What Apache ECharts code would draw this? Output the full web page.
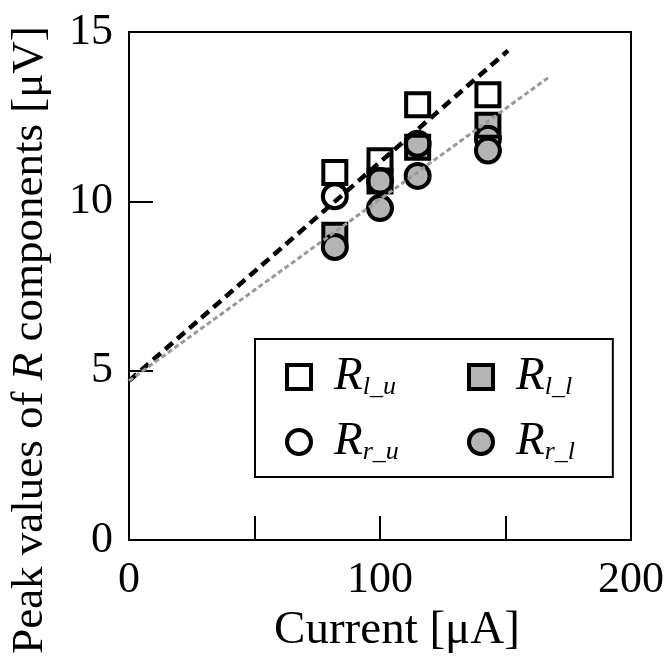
<!DOCTYPE html>
<html>
<head>
<meta charset="utf-8">
<script src="https://cdn.jsdelivr.net/npm/echarts@6/dist/echarts.min.js"></script>
<style>
  html, body { margin: 0; padding: 0; background: #fff; }
  #main { width: 667px; height: 660px; }
</style>
</head>
<body>
<div id="main"></div>
<script>
// current [uA] for each measurement column
const current = [82, 100, 115, 143];

// peak values [uV]
const rLU = [10.85, 11.2, 12.85, 13.15];
const rLL = [9.0, 10.6, 11.6, 12.25];
const rRU = [10.15, 10.6, 11.7, 11.85];
const rRL = [8.65, 9.8, 10.75, 11.5];

// fitted lines (end points)
const fitUpper = [[0, 4.7], [151, 14.45]];
const fitLower = [[0, 4.7], [167, 13.65]];

const xTicks = [50, 100, 150];
const xLabels = [0, 100, 200];
const yTicks = [5, 10];
const yLabels = [0, 5, 10, 15];

const font = "Liberation Serif";
const gray = "#b4b4b4";

function pairs(ys) {
  return current.map(function (x, i) {
    return [x, ys[i]];
  });
}

let chartDom = document.getElementById("main");
let myChart = echarts.init(chartDom);

const legendText = {
  color: "#000",
  fontFamily: font,
  width: 90,
  rich: {
    a: {
      fontFamily: font,
      fontStyle: "italic",
      fontSize: 47,
      lineHeight: 46,
      verticalAlign: "bottom",
      padding: [0, 0, 0, 18],
      color: "#000",
    },
    b: {
      fontFamily: font,
      fontStyle: "italic",
      fontSize: 26,
      lineHeight: 24,
      verticalAlign: "bottom",
      padding: [22, 0, 0, 0],
      color: "#000",
    },
  },
};

function legendFormatter(name) {
  return "{a|" + name[0] + "}{b|" + name.slice(1) + "}";
}

let option = {
  animation: false,
  grid: {
    left: 126,
    right: 35,
    top: 32,
    bottom: 120,
    show: true,
    borderColor: "#000",
    borderWidth: 2,
  },
  legend: [
    {
      data: ["Rl_u", "Rr_u"],
      orient: "vertical",
      left: 255,
      top: 339,
      padding: [13, 214, 12, 30],
      itemGap: 17,
      itemWidth: 24,
      itemHeight: 24,
      borderColor: "#000",
      borderWidth: 2,
      selectedMode: false,
      itemStyle: { borderWidth: 4 },
      textStyle: legendText,
      formatter: legendFormatter,
    },
    {
      data: ["Rl_l", "Rr_l"],
      orient: "vertical",
      left: 467,
      top: 339,
      padding: [13, 0, 12, 0],
      itemGap: 17,
      itemWidth: 24,
      itemHeight: 24,
      selectedMode: false,
      itemStyle: { borderWidth: 4 },
      textStyle: legendText,
      formatter: legendFormatter,
    },
  ],
  xAxis: {
    type: "value",
    min: 0,
    max: 200,
    interval: 50,
    name: "Current [μA]",
    nameLocation: "middle",
    nameGap: 62,
    nameTextStyle: {
      fontFamily: font,
      fontSize: 47,
      color: "#000",
      padding: [0, 0, 0, 34],
    },
    axisLine: { lineStyle: { color: "#000", width: 2 } },
    axisTick: {
      inside: true,
      length: 24,
      customValues: xTicks,
      lineStyle: { color: "#000", width: 2 },
    },
    axisLabel: {
      customValues: xLabels,
      margin: 18,
      fontFamily: font,
      fontSize: 44,
      color: "#000",
    },
    splitLine: { show: false },
  },
  yAxis: {
    type: "value",
    min: 0,
    max: 15,
    interval: 5,
    name: "Peak values of {i|R} components [μV]",
    nameLocation: "middle",
    nameGap: 76,
    nameTextStyle: {
      fontFamily: font,
      fontSize: 45,
      color: "#000",
      padding: [0, 108, 0, 0],
      rich: {
        i: { fontFamily: font, fontSize: 45, fontStyle: "italic", color: "#000" },
      },
    },
    axisLine: { lineStyle: { color: "#000", width: 2 } },
    axisTick: {
      inside: true,
      length: 24,
      customValues: yTicks,
      lineStyle: { color: "#000", width: 2 },
    },
    axisLabel: {
      customValues: yLabels,
      margin: 16,
      fontFamily: font,
      fontSize: 44,
      color: "#000",
    },
    splitLine: { show: false },
  },
  series: [
    {
      name: "Rl_u",
      type: "scatter",
      symbol: "rect",
      symbolSize: 23,
      itemStyle: { color: "transparent", borderColor: "#000", borderWidth: 4, opacity: 1 },
      data: pairs(rLU),
    },
    {
      name: "Rl_l",
      type: "scatter",
      symbol: "rect",
      symbolSize: 23,
      itemStyle: { color: gray, borderColor: "#000", borderWidth: 4, opacity: 1 },
      data: pairs(rLL),
    },
    {
      name: "Rr_u",
      type: "scatter",
      symbol: "circle",
      symbolSize: 24,
      itemStyle: { color: "transparent", borderColor: "#000", borderWidth: 4, opacity: 1 },
      data: pairs(rRU),
    },
    {
      name: "Rr_l",
      type: "scatter",
      symbol: "circle",
      symbolSize: 24,
      itemStyle: { color: gray, borderColor: "#000", borderWidth: 4, opacity: 1 },
      data: pairs(rRL),
    },
    {
      name: "fitUpper",
      type: "line",
      symbol: "none",
      z: 5,
      lineStyle: { color: "#000", width: 4.5, type: [10, 6] },
      data: fitUpper,
    },
    {
      name: "fitLower",
      type: "line",
      symbol: "none",
      z: 5,
      lineStyle: { color: "#999", width: 3, type: [5, 3] },
      data: fitLower,
    },
  ],
};

option && myChart.setOption(option);
</script>
</body>
</html>
